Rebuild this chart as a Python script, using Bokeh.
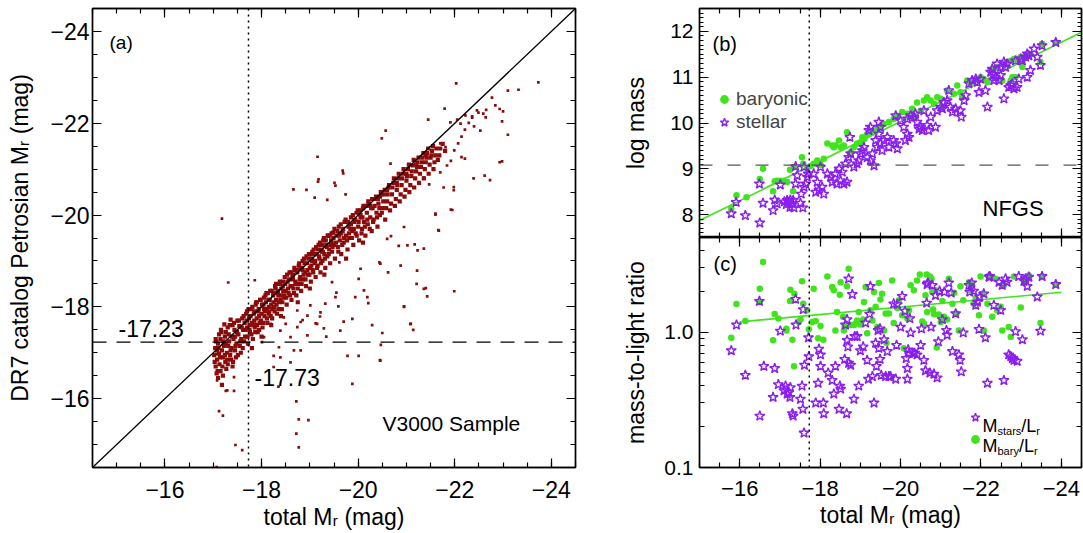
from bokeh.plotting import figure
from bokeh.models import (Range1d, LinearAxis, FixedTicker, Span, Slope, Label,
                          Legend, LegendItem, PrintfTickFormatter)
from bokeh.layouts import row, column
from bokeh.embed import file_html
from bokeh.resources import INLINE

FONT = "Liberation Sans"
RED = "#8b0a0a"
GREEN = "#3fe41c"
PURPLE = "#8a1ef0"

# ---------------- panel (a): V3000 sample, total Mr vs DR7 Petrosian Mr ----------------
band_pts = [
    (-17.02,-16.95),(-17.05,-16.70),(-17.04,-17.10),(-17.08,-16.85),(-17.10,-17.20),(-17.07,-16.55),
    (-17.12,-16.98),(-17.15,-17.30),(-17.13,-16.75),(-17.18,-17.05),(-17.20,-16.90),(-17.17,-17.45),
    (-17.22,-17.15),(-17.25,-16.80),(-17.24,-17.35),(-17.28,-17.00),(-17.30,-17.55),(-17.27,-16.65),
    (-17.33,-17.25),(-17.35,-16.95),(-17.32,-17.40),(-17.38,-17.10),(-17.40,-17.60),(-17.37,-16.85),
    (-17.42,-17.30),(-17.45,-17.05),(-17.44,-17.50),(-17.48,-17.20),(-17.50,-17.70),(-17.47,-16.90),
    (-17.52,-17.40),(-17.55,-17.15),(-17.54,-17.58),(-17.58,-17.30),(-17.60,-17.75),(-17.57,-17.00),
    (-17.62,-17.50),(-17.10,-16.45),(-17.20,-16.50),(-17.15,-16.60),(-17.30,-16.75),(-17.05,-17.30),
    (-17.12,-17.40),(-17.23,-17.62),(-17.36,-17.72),(-17.18,-16.30),(-17.40,-16.70),(-17.08,-17.05),
    (-17.26,-17.20),(-17.45,-17.35),
    (-17.65,-17.65),(-17.66,-17.35),(-17.68,-17.85),(-17.70,-17.55),(-17.72,-17.20),(-17.74,-17.75),
    (-17.76,-17.45),(-17.78,-17.95),(-17.80,-17.65),(-17.82,-17.30),(-17.84,-17.85),(-17.86,-17.55),
    (-17.88,-18.05),(-17.90,-17.75),(-17.92,-17.45),(-17.94,-17.95),(-17.96,-17.65),(-17.98,-18.15),
    (-18.00,-17.85),(-18.02,-17.55),(-18.04,-18.05),(-18.06,-17.80),(-18.08,-18.25),(-18.10,-17.95),
    (-18.12,-17.65),(-18.14,-18.15),(-18.16,-17.90),(-18.18,-18.35),(-18.20,-18.05),(-18.22,-17.75),
    (-18.24,-18.25),(-18.26,-18.00),(-18.28,-18.45),(-18.30,-18.15),(-18.32,-17.85),(-18.34,-18.35),
    (-18.36,-18.10),(-18.38,-18.55),(-18.40,-18.25),(-18.42,-17.95),(-18.44,-18.45),(-18.46,-18.20),
    (-18.48,-18.65),(-18.50,-18.35),(-17.75,-17.60),(-17.85,-17.70),(-17.95,-17.80),(-18.05,-17.95),
    (-18.15,-18.00),(-18.25,-18.10),(-18.35,-18.25),(-18.45,-18.35),(-17.80,-17.10),(-18.00,-17.35),
    (-18.20,-17.60),(-18.40,-17.80),(-17.70,-17.90),(-17.90,-18.10),(-18.10,-18.30),(-18.30,-18.50),
    (-18.52,-18.05),(-18.54,-18.55),(-18.56,-18.30),(-18.58,-18.75),(-18.60,-18.45),(-18.62,-18.15),
    (-18.64,-18.65),(-18.66,-18.40),(-18.68,-18.85),(-18.70,-18.55),(-18.72,-18.25),(-18.74,-18.75),
    (-18.76,-18.50),(-18.78,-18.95),(-18.80,-18.65),(-18.82,-18.35),(-18.84,-18.85),(-18.86,-18.60),
    (-18.88,-19.05),(-18.90,-18.75),(-18.92,-18.45),(-18.94,-18.95),(-18.96,-18.70),(-18.98,-19.15),
    (-19.00,-18.85),(-19.02,-18.55),(-19.04,-19.05),(-19.06,-18.80),(-19.08,-19.25),(-19.10,-18.95),
    (-19.12,-18.65),(-19.14,-19.15),(-19.16,-18.90),(-19.18,-19.35),(-19.20,-19.05),(-19.22,-18.75),
    (-19.24,-19.25),(-19.26,-19.00),(-19.28,-19.45),(-19.30,-19.15),(-19.32,-18.85),(-19.34,-19.35),
    (-19.36,-19.10),(-19.38,-19.55),(-19.40,-19.25),(-19.42,-18.95),(-19.44,-19.45),(-19.46,-19.20),
    (-19.48,-19.62),(-18.65,-18.60),(-18.85,-18.80),(-19.05,-19.00),(-19.25,-19.20),(-19.45,-19.40),
    (-18.75,-18.10),(-19.00,-18.40),(-19.30,-18.70),
    (-19.50,-19.35),(-19.52,-19.05),(-19.55,-19.55),(-19.58,-19.30),(-19.60,-19.75),(-19.62,-19.45),
    (-19.65,-19.15),(-19.68,-19.65),(-19.70,-19.40),(-19.72,-19.85),(-19.75,-19.55),(-19.78,-19.25),
    (-19.80,-19.75),(-19.82,-19.50),(-19.85,-19.95),(-19.88,-19.65),(-19.90,-19.35),(-19.92,-19.85),
    (-19.95,-19.60),(-19.98,-20.05),(-20.00,-19.75),(-20.02,-19.45),(-20.05,-19.95),(-20.08,-19.70),
    (-20.10,-20.15),(-20.12,-19.85),(-20.15,-19.55),(-20.18,-20.05),(-20.20,-19.80),(-20.22,-20.25),
    (-20.25,-19.95),(-20.28,-19.65),(-20.30,-20.15),(-20.32,-19.90),(-20.35,-20.35),(-20.38,-20.05),
    (-20.40,-19.75),(-20.42,-20.25),(-20.45,-20.00),(-20.48,-20.45),(-19.65,-19.60),(-19.85,-19.80),
    (-20.05,-20.00),(-20.25,-20.20),(-20.45,-20.40),(-19.75,-19.05),(-20.10,-19.40),
    (-20.50,-20.15),(-20.53,-20.45),(-20.56,-19.90),(-20.60,-20.30),(-20.63,-20.60),(-20.66,-20.10),
    (-20.70,-20.45),(-20.73,-20.70),(-20.76,-20.20),(-20.80,-20.55),(-20.83,-20.80),(-20.86,-20.30),
    (-20.90,-20.65),(-20.93,-20.90),(-20.96,-20.40),(-21.00,-20.75),(-21.03,-21.00),(-21.06,-20.50),
    (-21.10,-20.85),(-21.13,-21.08),(-21.16,-20.60),(-21.20,-20.95),(-21.23,-21.15),(-21.26,-20.70),
    (-21.30,-21.05),(-21.33,-21.25),(-21.36,-20.80),(-21.40,-21.15),(-21.43,-21.35),(-21.46,-20.90),
    (-21.50,-21.25),(-21.53,-21.40),(-21.56,-21.00),(-21.60,-21.30),(-21.65,-21.20),(-21.70,-21.45),
    (-20.60,-20.55),(-20.80,-20.70),(-21.00,-20.90),(-21.20,-21.10),(-21.40,-21.30),
    (-17.03,-16.80),(-17.06,-17.25),(-17.09,-16.60),(-17.11,-17.10),(-17.14,-16.90),(-17.16,-17.50),
    (-17.19,-16.70),(-17.21,-17.25),(-17.24,-16.95),(-17.26,-17.45),(-17.29,-16.85),(-17.31,-17.15),
    (-17.34,-17.60),(-17.36,-17.05),(-17.39,-17.35),(-17.41,-16.80),(-17.43,-17.65),(-17.46,-17.15),
    (-17.49,-17.45),(-17.51,-16.95),(-17.53,-17.70),(-17.56,-17.25),(-17.59,-17.55),(-17.61,-17.10),
    (-17.63,-17.80),(-17.64,-17.25),(-17.67,-17.50),(-17.69,-17.70),(-17.71,-17.35),(-17.73,-17.95),
    (-17.75,-17.50),(-17.77,-17.80),(-17.79,-17.40),(-17.81,-18.00),(-17.83,-17.60),(-17.85,-17.90),
    (-17.87,-17.45),(-17.89,-18.10),(-17.91,-17.60),(-17.93,-17.90),(-17.95,-17.50),(-17.97,-18.15),
    (-17.99,-17.70),(-18.01,-18.05),(-18.03,-17.65),(-18.05,-18.20),(-18.07,-17.90),(-18.09,-18.10),
    (-18.11,-17.75),(-18.13,-18.30),(-18.15,-17.85),(-18.17,-18.15),(-18.19,-17.80),(-18.21,-18.35),
    (-18.23,-17.95),(-18.25,-18.30),(-18.27,-17.90),(-18.29,-18.40),(-18.31,-18.05),(-18.33,-18.30),
    (-18.35,-17.95),(-18.37,-18.50),(-18.39,-18.15),(-18.41,-18.40),(-18.43,-18.10),(-18.45,-18.55),
    (-18.47,-18.25),(-18.49,-18.50),
    (-18.51,-18.20),(-18.53,-18.70),(-18.55,-18.40),(-18.57,-18.60),(-18.59,-18.25),(-18.61,-18.75),
    (-18.63,-18.45),(-18.65,-18.70),(-18.67,-18.30),(-18.69,-18.80),(-18.71,-18.50),(-18.73,-18.80),
    (-18.75,-18.40),(-18.77,-18.90),(-18.79,-18.60),(-18.81,-18.85),(-18.83,-18.50),(-18.85,-19.00),
    (-18.87,-18.70),(-18.89,-18.95),(-18.91,-18.60),(-18.93,-19.10),(-18.95,-18.80),(-18.97,-19.05),
    (-18.99,-18.70),(-19.01,-19.15),(-19.03,-18.90),(-19.05,-19.20),(-19.07,-18.75),(-19.09,-19.15),
    (-19.11,-19.00),(-19.13,-19.30),(-19.15,-18.85),(-19.17,-19.25),(-19.19,-19.10),(-19.21,-19.40),
    (-19.23,-18.95),(-19.25,-19.35),(-19.27,-19.20),(-19.29,-19.50),(-19.31,-19.05),(-19.33,-19.45),
    (-19.35,-19.30),(-19.37,-19.55),(-19.39,-19.15),(-19.41,-19.55),(-19.43,-19.35),(-19.45,-19.60),
    (-19.47,-19.30),(-19.49,-19.50),
    (-19.51,-19.70),(-19.54,-19.40),(-19.57,-19.65),(-19.59,-19.20),(-19.61,-19.55),(-19.64,-19.80),
    (-19.67,-19.35),(-19.69,-19.70),(-19.71,-19.50),(-19.74,-19.90),(-19.77,-19.45),(-19.79,-19.85),
    (-19.81,-19.60),(-19.84,-19.70),(-19.87,-19.50),(-19.89,-20.00),(-19.91,-19.70),(-19.94,-19.90),
    (-19.97,-19.55),(-19.99,-20.10),(-20.01,-19.85),(-20.04,-20.10),(-20.07,-19.60),(-20.09,-19.95),
    (-20.11,-20.20),(-20.14,-19.75),(-20.17,-20.20),(-20.19,-19.90),(-20.21,-20.30),(-20.24,-19.70),
    (-20.27,-20.15),(-20.29,-20.35),(-20.31,-19.85),(-20.34,-20.20),(-20.37,-20.40),(-20.39,-19.95),
    (-20.41,-20.35),(-20.44,-20.15),(-20.47,-20.50),(-20.49,-20.05),
    (-20.52,-20.30),(-20.55,-20.55),(-20.58,-20.15),(-20.61,-20.45),(-20.64,-20.65),(-20.68,-20.25),
    (-20.71,-20.60),(-20.74,-20.80),(-20.78,-20.35),(-20.81,-20.65),(-20.84,-20.90),(-20.88,-20.45),
    (-20.91,-20.80),(-20.94,-21.00),(-20.98,-20.55),(-21.01,-20.85),(-21.05,-21.10),(-21.08,-20.65),
    (-21.11,-20.95),(-21.15,-21.20),(-21.18,-20.80),(-21.22,-21.05),(-21.25,-21.25),(-21.28,-20.90),
    (-21.32,-21.15),(-21.35,-21.35),(-21.38,-21.00),(-21.42,-21.25),(-21.45,-21.45),(-21.48,-21.10),
    (-21.52,-21.30),(-21.55,-21.50),(-21.58,-21.15),(-21.62,-21.45),(-21.68,-21.30),(-21.75,-21.55),
    (-21.80,-21.40),
]
scatter_pts = [
    (-17.18,-19.92),(-17.31,-18.53),(-17.06,-16.97),(-17.12,-15.73),(-17.20,-15.63),(-17.07,-14.51),
    (-17.46,-14.99),(-17.26,-16.17),(-17.43,-16.17),(-17.60,-14.88),(-17.86,-18.58),(-18.25,-16.93),
    (-18.35,-16.26),(-18.66,-20.56),(-18.60,-16.79),(-18.72,-15.94),(-18.77,-15.55),(-18.72,-15.24),
    (-18.77,-14.94),(-18.97,-15.53),(-18.85,-17.71),(-19.16,-21.27),(-19.18,-20.78),(-19.12,-17.64),
    (-19.21,-17.79),(-19.29,-17.53),(-19.34,-17.35),(-19.51,-20.70),(-19.68,-20.97),(-19.61,-18.97),
    (-19.55,-18.31),(-19.59,-18.01),(-19.70,-17.68),(-19.88,-16.32),(-19.78,-16.93),(-20.01,-16.93),
    (-20.21,-18.08),(-20.29,-17.60),(-20.47,-17.17),(-20.45,-16.84),(-20.44,-18.97),(-20.49,-21.67),
    (-20.57,-21.84),(-20.62,-18.75),(-20.68,-19.54),(-20.84,-19.33),(-20.95,-18.00),(-21.09,-17.63),
    (-21.14,-17.50),(-21.17,-19.36),(-21.23,-19.23),(-21.36,-19.27),(-21.40,-18.41),(-21.43,-18.23),
    (-21.36,-20.82),(-21.45,-22.08),(-21.47,-20.67),(-21.60,-20.01),(-21.66,-19.67),(-21.79,-22.32),
    (-21.77,-20.60),(-21.92,-20.12),(-21.99,-18.34),(-21.98,-20.54),(-22.03,-22.87),(-22.14,-21.26),
    (-22.21,-21.23),(-22.39,-20.80),(-22.62,-20.86),(-22.73,-20.76),(-22.77,-22.56),(-22.93,-21.15),
    (-22.98,-21.17),(-23.10,-21.75),(-23.10,-22.71),(-23.32,-22.73),(-23.73,-22.89),(-22.98,-22.04),
    (-22.84,-22.39),(-22.65,-22.29),(-22.49,-22.23),(-22.36,-22.15),(-22.29,-22.01),(-22.21,-21.86),
    (-22.14,-21.71),(-22.07,-21.56),(-21.99,-21.41),(-21.92,-21.18),(-21.81,-21.48),(-21.70,-21.56),
    (-22.93,-22.31),(-23.00,-22.26),(-22.53,-21.84),(-22.46,-22.28),(-22.59,-22.21),(-22.64,-22.13),
    (-22.36,-22.12),(-22.22,-22.17),(-22.40,-21.93),(-22.12,-21.99),(-22.05,-22.08),(-21.91,-22.02),
    (-19.69,-20.91),(-19.17,-20.73),(-18.93,-20.55),(-19.53,-20.64),(-19.10,-20.38),(-19.36,-20.33),
    (-19.74,-20.45),(-19.95,-20.06),(-20.26,-19.95),(-20.60,-19.48),(-20.67,-21.12),(-20.46,-18.94),
    (-20.88,-18.90),(-20.95,-19.74),(-21.02,-19.34),(-21.22,-18.79),(-21.21,-18.50),(-21.36,-18.39),
    (-21.08,-17.63),(-20.50,-17.43),(-20.95,-18.01),(-21.60,-20.03),(-21.67,-19.66),(-21.95,-20.11),
    (-21.84,-21.08),(-21.70,-20.93),(-21.98,-20.61),(-20.01,-18.61),(-20.05,-18.83),(-20.12,-18.36),
    (-20.19,-18.21),(-19.88,-17.74),(-19.63,-17.48),(-20.46,-16.83),(-19.94,-18.21),(-19.46,-18.54),
    (-19.53,-18.21),(-19.32,-18.07),(-19.22,-17.88),(-19.15,-17.63),(-18.95,-17.38),(-18.81,-17.67),
    (-18.74,-17.92),(-19.01,-18.03),(-18.67,-17.05),(-18.81,-17.05),(-18.39,-16.90),(-18.25,-16.69),
    (-17.43,-16.47),(-17.29,-16.18),(-17.08,-16.40),(-18.36,-17.12),(-18.01,-17.23),(-18.60,-17.34),
    (-18.50,-17.63),(-18.46,-17.77),(-18.39,-17.48),(-18.19,-17.63),(-18.05,-17.34),(-17.87,-17.63),
    (-18.74,-17.56),(-18.95,-17.81),
]
limit_total_mr = -17.73
limit_petro_mr = -17.23

# ---------------- panel (b): NFGS log mass vs total Mr ----------------
stellar_mass_pts = [
    (-15.79,8.02),(-15.91,8.27),(-16.14,7.98),(-16.50,7.82),(-16.49,8.67),(-16.58,8.25),(-16.83,8.09),
    (-16.87,8.32),(-16.93,8.24),(-17.01,8.65),(-17.11,8.28),(-17.18,8.31),(-17.22,8.27),(-17.26,8.32),
    (-17.31,8.24),(-17.25,8.16),(-17.16,8.22),(-17.35,8.15),(-17.33,8.31),(-17.39,8.67),(-17.43,8.85),
    (-17.39,9.05),(-17.51,8.25),(-17.57,8.15),(-17.53,8.45),(-17.60,8.60),(-17.64,8.67),(-17.60,9.04),
    (-17.68,8.82),(-17.70,8.89),(-17.84,8.89),(-17.89,8.49),(-17.93,8.71),(-17.97,8.53),(-18.05,8.60),
    (-18.09,8.45),(-18.01,9.04),(-18.18,8.89),(-18.26,8.82),(-18.30,8.71),(-18.38,8.89),(-18.42,8.67),
    (-18.51,8.74),(-18.55,8.93),(-18.47,9.00),(-18.59,8.67),(-18.67,8.71),(-18.63,9.11),(-18.71,9.25),
    (-18.76,9.33),(-18.74,9.69),(-18.84,9.04),(-18.92,9.11),(-18.96,9.18),(-19.00,9.33),(-19.05,9.40),
    (-19.09,9.47),(-19.17,9.25),(-19.25,9.18),(-19.34,9.07),(-19.30,9.33),(-19.21,9.84),(-19.25,9.91),
    (-19.38,9.62),(-19.42,9.47),(-19.46,9.76),(-19.50,9.55),(-19.54,9.40),(-19.59,9.62),(-19.46,10.02),
    (-19.50,9.91),(-19.67,9.69),(-19.71,9.47),(-19.83,9.62),(-19.88,9.55),(-19.92,9.44),(-19.88,10.16),
    (-20.00,10.05),(-20.08,9.91),(-20.12,9.62),(-20.17,9.76),(-20.21,9.69),(-20.17,10.09),(-20.25,10.16),
    (-20.33,10.13),(-20.37,10.20),(-20.41,10.02),(-20.46,9.87),(-20.50,9.91),(-20.54,9.84),(-20.58,10.27),
    (-20.66,9.95),(-20.70,9.84),(-20.75,10.13),(-20.87,9.91),(-20.91,10.27),(-21.00,10.35),(-21.04,10.31),
    (-21.08,10.45),(-21.16,10.49),(-21.20,10.71),(-21.24,10.35),(-21.29,10.24),(-21.37,10.31),(-21.49,10.27),
    (-21.51,10.13),(-21.58,10.49),(-21.62,10.60),(-21.70,10.86),(-21.78,10.93),(-21.87,10.96),(-21.91,10.89),
    (-21.95,10.67),(-21.99,10.96),(-22.11,10.71),(-22.16,10.35),(-22.24,11.11),(-22.28,11.18),(-22.32,11.07),
    (-22.36,11.00),(-22.40,11.29),(-22.49,11.22),(-22.57,11.33),(-22.61,11.22),(-22.65,11.29),(-22.69,10.78),
    (-22.74,10.82),(-22.78,10.86),(-22.82,10.75),(-22.90,10.78),(-22.94,10.96),(-22.57,10.53),(-22.86,11.36),
    (-22.99,11.40),(-23.03,11.36),(-23.11,11.44),(-23.15,11.51),(-23.19,11.47),(-23.32,11.62),(-23.40,11.44),
    (-23.48,11.26),(-23.52,11.69),(-23.86,11.76),(-23.15,11.00),(-23.23,11.15),(-22.49,11.04),(-22.32,10.93),
    (-22.45,10.93),
]
baryonic_mass_pts = [
    (-15.79,8.13),(-15.92,8.42),(-16.17,8.38),(-16.50,8.78),(-16.58,9.00),(-16.83,8.51),(-16.87,8.73),
    (-16.93,8.74),(-17.01,8.74),(-17.10,8.74),(-17.18,8.71),(-17.25,8.98),(-17.33,8.51),(-17.36,9.04),
    (-17.55,9.25),(-17.58,9.11),(-17.68,9.00),(-17.76,9.06),(-17.84,9.11),(-17.93,9.18),(-18.01,9.09),
    (-18.09,9.22),(-18.18,9.55),(-18.30,9.51),(-18.34,9.47),(-18.38,9.51),(-18.47,9.62),(-18.51,9.47),
    (-18.59,9.51),(-18.67,9.80),(-18.76,9.36),(-18.84,9.47),(-18.92,9.55),(-19.00,9.58),(-19.05,9.69),
    (-19.10,9.65),(-19.17,9.76),(-19.25,9.80),(-19.34,9.84),(-19.42,9.87),(-19.50,9.91),(-19.59,9.98),
    (-19.71,10.02),(-19.83,10.09),(-19.92,10.16),(-20.04,10.24),(-20.17,10.20),(-20.29,10.31),(-20.33,10.13),
    (-20.41,10.45),(-20.50,10.27),(-20.58,10.49),(-20.66,10.56),(-20.75,10.49),(-20.83,10.42),(-20.91,10.56),
    (-21.00,10.53),(-21.04,10.35),(-21.16,10.71),(-21.33,10.64),(-21.41,10.82),(-21.49,10.67),(-21.53,10.56),
    (-21.66,10.93),(-21.74,10.89),(-21.82,10.93),(-21.91,10.96),(-21.99,11.00),(-22.07,10.96),(-22.16,10.89),
    (-22.24,11.15),(-22.32,11.18),(-22.40,11.22),(-22.53,10.93),(-22.57,11.29),(-22.65,11.33),(-22.74,11.36),
    (-22.82,11.40),(-22.86,11.00),(-22.90,11.40),(-22.99,11.44),(-23.03,11.22),(-23.11,11.47),(-23.19,11.51),
    (-23.48,11.33),(-23.52,11.73),(-23.86,11.76),(-22.74,10.93),(-22.78,11.00),
]
mass_fit_mr = [-15.0, -24.5]
mass_fit_logm = [7.87, 11.98]
mass_limit = 9.08

# ---------------- panel (c): mass-to-light ratio vs total Mr ----------------
stellar_ml_pts = [
    (-15.79,0.73),(-15.92,1.13),(-16.14,0.48),(-16.50,0.24),(-16.49,1.69),(-16.60,0.56),(-16.87,0.54),
    (-16.96,0.41),(-16.83,0.33),(-17.01,1.02),(-17.10,0.37),(-17.14,0.40),(-17.18,0.35),(-17.22,0.36),
    (-17.25,0.33),(-17.26,0.39),(-17.31,0.25),(-17.33,0.24),(-17.40,1.13),(-17.39,1.75),(-17.51,0.32),
    (-17.55,0.40),(-17.57,0.27),(-17.58,1.47),(-17.60,0.18),(-17.61,0.57),(-17.71,0.91),(-17.72,0.66),
    (-17.89,0.30),(-17.95,0.42),(-17.97,0.75),(-18.01,0.68),(-18.01,0.56),(-18.08,0.30),(-18.09,0.25),
    (-18.20,0.50),(-18.30,0.44),(-18.34,0.35),(-18.38,0.56),(-18.47,0.27),(-18.49,0.40),(-18.51,0.38),
    (-18.61,0.63),(-18.66,0.25),(-18.67,0.87),(-18.69,0.78),(-18.71,0.59),(-18.76,0.57),(-18.80,1.90),
    (-18.71,2.48),(-18.67,1.24),(-18.63,1.13),(-18.84,0.32),(-18.86,0.93),(-18.92,0.93),(-18.96,0.40),
    (-19.00,0.73),(-19.07,0.78),(-19.13,1.17),(-19.17,0.62),(-19.20,0.45),(-19.23,1.36),(-19.25,2.18),
    (-19.30,0.47),(-19.34,0.30),(-19.38,0.83),(-19.40,0.56),(-19.44,1.03),(-19.46,0.76),(-19.49,0.63),
    (-19.49,1.06),(-19.52,0.48),(-19.59,0.88),(-19.63,0.47),(-19.67,0.72),(-19.71,0.47),(-19.75,0.47),
    (-19.88,0.45),(-19.83,1.62),(-19.90,0.80),(-19.92,1.60),(-20.00,1.09),(-20.04,1.84),(-20.11,1.43),
    (-20.14,0.64),(-20.17,0.54),(-20.17,0.45),(-20.19,0.74),(-20.21,0.70),(-20.23,1.26),(-20.25,0.99),
    (-20.32,0.70),(-20.35,0.70),(-20.41,0.68),(-20.50,0.80),(-20.52,1.06),(-20.58,0.62),(-20.62,0.52),
    (-20.65,1.64),(-20.66,2.25),(-20.68,2.31),(-20.73,0.50),(-20.76,1.09),(-20.79,2.22),(-20.83,0.49),
    (-20.87,1.87),(-20.91,0.46),(-20.94,0.85),(-20.97,2.01),(-21.04,1.24),(-21.09,1.98),(-21.14,1.03),
    (-21.16,0.95),(-21.20,2.31),(-21.26,1.95),(-21.29,0.72),(-21.37,1.37),(-21.45,0.68),(-21.48,0.62),
    (-21.51,0.51),(-21.56,0.99),(-21.70,2.22),(-21.72,1.98),(-21.77,2.31),(-21.82,2.01),(-21.87,1.58),
    (-21.91,1.67),(-21.95,1.05),(-21.97,1.82),(-22.07,1.92),(-22.11,0.91),(-22.16,0.42),(-22.20,2.55),
    (-22.22,2.58),(-22.32,1.58),(-22.45,2.34),(-22.49,1.45),(-22.53,2.22),(-22.57,0.44),(-22.61,2.48),
    (-22.65,2.34),(-22.69,0.68),(-22.74,0.66),(-22.78,0.64),(-22.82,0.62),(-22.86,1.01),(-22.90,0.61),
    (-22.94,2.58),(-23.03,0.88),(-23.07,2.38),(-23.11,2.48),(-23.15,2.18),(-23.19,2.55),(-23.40,1.82),
    (-23.48,1.02),(-23.52,2.58),(-23.86,2.25),
]
baryonic_ml_pts = [
    (-15.79,0.91),(-15.92,1.61),(-16.14,1.21),(-16.50,1.67),(-16.58,3.29),(-16.50,2.09),(-16.83,0.87),
    (-16.87,1.36),(-16.96,1.26),(-17.16,1.06),(-17.16,1.03),(-17.25,1.70),(-17.26,2.06),(-17.31,0.88),
    (-17.35,0.56),(-17.36,1.92),(-17.47,1.19),(-17.51,1.24),(-17.55,2.38),(-17.58,1.62),(-17.68,1.45),
    (-17.72,1.05),(-17.80,1.19),(-17.84,2.09),(-17.89,1.21),(-17.95,0.90),(-18.01,1.11),(-18.08,0.88),
    (-18.18,2.58),(-18.30,2.15),(-18.34,2.04),(-18.38,1.03),(-18.42,1.41),(-18.49,1.89),(-18.51,2.34),
    (-18.57,1.30),(-18.59,1.03),(-18.61,1.09),(-18.67,2.18),(-18.71,2.94),(-18.76,1.13),(-18.84,1.13),
    (-18.88,1.16),(-18.92,1.22),(-18.96,1.41),(-19.00,1.14),(-19.07,1.24),(-19.09,1.67),(-19.13,2.15),
    (-19.17,0.98),(-19.25,1.45),(-19.30,1.22),(-19.34,1.98),(-19.38,1.54),(-19.42,1.09),(-19.46,2.31),
    (-19.50,1.74),(-19.54,1.92),(-19.59,1.03),(-19.63,1.37),(-19.65,0.83),(-19.71,1.37),(-19.79,2.41),
    (-19.83,1.17),(-19.92,1.51),(-19.96,1.72),(-20.04,1.33),(-20.08,0.76),(-20.17,1.26),(-20.21,1.45),
    (-20.25,2.22),(-20.33,2.04),(-20.41,2.41),(-20.48,2.67),(-20.54,1.20),(-20.58,1.16),(-20.62,1.87),
    (-20.65,2.67),(-20.66,1.41),(-20.73,2.58),(-20.77,2.48),(-20.79,1.98),(-20.81,1.47),(-20.83,1.36),
    (-20.87,2.04),(-20.90,0.77),(-20.95,1.35),(-21.00,1.19),(-21.04,1.70),(-21.08,1.30),(-21.16,1.24),
    (-21.20,2.48),(-21.29,1.62),(-21.33,1.95),(-21.39,1.37),(-21.45,1.03),(-21.49,2.18),(-21.56,1.72),
    (-21.70,2.34),(-21.74,2.04),(-21.78,2.22),(-21.82,1.62),(-21.87,1.77),(-21.95,1.33),(-21.99,2.58),
    (-22.03,1.92),(-22.07,1.03),(-22.16,1.62),(-22.20,2.62),(-22.28,1.30),(-22.36,2.48),(-22.40,1.45),
    (-22.49,1.54),(-22.53,1.03),(-22.57,2.22),(-22.69,1.09),(-22.74,0.92),(-22.82,2.58),(-22.99,1.52),
    (-23.07,2.38),(-23.15,2.48),(-23.19,2.62),(-23.48,1.17),(-23.52,2.58),(-23.86,2.25),
]
ml_fit_mr = [-16.0, -24.0]
ml_fit_ratio = [1.19, 1.97]

# ---------------- ticks ----------------
mag_major = [-24, -22, -20, -18, -16]
mag_minor = [-24.5 + 0.5 * i for i in range(21)]
mass_major = [8, 9, 10, 11, 12]
mass_minor = [round(7.5 + 0.1 * i, 2) for i in range(51)]
ml_major = [0.1, 1.0]
ml_minor = [0.2, 0.3, 0.4, 0.5, 0.6, 0.7, 0.8, 0.9, 2, 3, 4, 5]


def xs(pts):
    return [p[0] for p in pts]


def ys(pts):
    return [p[1] for p in pts]


def style_axis(ax, labels=True, size="23px", minor_len=5):
    ax.axis_line_color = "black"
    ax.axis_line_width = 1.4
    ax.major_tick_in = 9
    ax.major_tick_out = 0
    ax.minor_tick_in = minor_len
    ax.minor_tick_out = 0
    ax.major_tick_line_width = 1.2
    ax.minor_tick_line_width = 1.2
    ax.major_tick_line_color = "black"
    ax.minor_tick_line_color = "black"
    ax.major_label_text_font = FONT
    ax.axis_label_text_font = FONT
    ax.axis_label_text_font_style = "normal"
    ax.axis_label_text_color = "black"
    ax.axis_label_text_font_size = "23px"
    if labels:
        ax.major_label_text_color = "black"
        ax.major_label_text_font_size = size
    else:
        # tick-only mirror axis: labels are not drawn at all
        ax.major_label_text_color = None
        ax.major_label_text_font_size = "1px"
        ax.major_label_standoff = 0


def mirror_axis(ticks, minor, minor_len=5):
    ax = LinearAxis(ticker=FixedTicker(ticks=ticks, minor_ticks=minor),
                    formatter=PrintfTickFormatter(format="%.1f"))
    style_axis(ax, labels=False, minor_len=minor_len)
    return ax


def base_fig(fw, fh, xr, yr, left, right, top, bottom, y_type="linear"):
    p = figure(frame_width=fw, frame_height=fh, x_range=xr, y_range=yr, y_axis_type=y_type,
               output_backend="svg", toolbar_location=None,
               min_border_left=left, min_border_right=right,
               min_border_top=top, min_border_bottom=bottom)
    p.grid.visible = False
    p.outline_line_color = "black"
    p.outline_line_width = 1.4
    p.background_fill_color = "white"
    p.border_fill_color = "white"
    return p


def add_label(p, text, x, y, size, baseline="middle"):
    p.add_layout(Label(x=x, y=y, x_units="screen", y_units="screen", text=text,
                       text_font=FONT, text_font_size=size, text_color="black",
                       text_baseline=baseline, text_align="left"))


def plain_legend(items, loc, spacing, standoff, font_size):
    return Legend(items=items, location=loc, background_fill_alpha=0, border_line_alpha=0,
                  padding=0, margin=0, spacing=spacing, glyph_width=24, glyph_height=22,
                  label_standoff=standoff, label_text_font=FONT,
                  label_text_font_size=font_size, label_height=20)


# ================= panel (a) =================
pa = base_fig(483, 459, Range1d(-14.5, -24.5), Range1d(-14.5, -24.5), 92, 10, 8, 66)
pa.xaxis.ticker = FixedTicker(ticks=mag_major, minor_ticks=mag_minor)
pa.yaxis.ticker = FixedTicker(ticks=mag_major, minor_ticks=mag_minor)
style_axis(pa.xaxis[0])
style_axis(pa.yaxis[0])
pa.xaxis.axis_label = "total M\u1d63 (mag)"
pa.yaxis.axis_label = "DR7 catalog Petrosian M\u1d63 (mag)"
pa.xaxis.major_label_standoff = 13
pa.xaxis.axis_label_standoff = 3
pa.yaxis.major_label_standoff = 3
pa.yaxis.axis_label_standoff = 14
pa.add_layout(mirror_axis(mag_major, mag_minor), "above")
pa.add_layout(mirror_axis(mag_major, mag_minor), "right")

pa.scatter(xs(band_pts), ys(band_pts), marker="square", size=4.2, fill_color=RED, line_color=None)
pa.scatter(xs(scatter_pts), ys(scatter_pts), marker="square", size=2.7, fill_color=RED, line_color=None)
pa.add_layout(Slope(gradient=1, y_intercept=0, line_color="black", line_width=1.3))
pa.add_layout(Span(location=limit_total_mr, dimension="height", line_color="black",
                   line_width=1.5, line_dash="2 4"))
pa.add_layout(Span(location=limit_petro_mr, dimension="width", line_color="black",
                   line_width=1.3, line_dash="14 10"))
add_label(pa, "(a)", 17, 425, "19px")
add_label(pa, "V3000 Sample", 290, 44, "21px")
add_label(pa, "-17.23", 26, 139, "23px")
add_label(pa, "-17.73", 162, 90, "23px")

# ================= panel (b) =================
xr_right = Range1d(-15.0, -24.5)
pb = base_fig(382, 229, xr_right, Range1d(7.5, 12.5), 114, 2, 8, 0)
pb.xaxis.ticker = FixedTicker(ticks=mag_major, minor_ticks=mag_minor)
style_axis(pb.xaxis[0], labels=False)
pb.yaxis.ticker = FixedTicker(ticks=mass_major, minor_ticks=mass_minor)
style_axis(pb.yaxis[0], size="21px", minor_len=4)
pb.yaxis.axis_label = "log mass"
pb.yaxis.major_label_standoff = 6
pb.yaxis.axis_label_standoff = 18
pb.add_layout(mirror_axis(mag_major, mag_minor), "above")
pb.add_layout(mirror_axis(mass_major, mass_minor, minor_len=4), "right")

pb.add_layout(Span(location=limit_total_mr, dimension="height", line_color="black",
                   line_width=1.5, line_dash="2 4"))
pb.add_layout(Span(location=mass_limit, dimension="width", line_color="#555555",
                   line_width=1.3, line_dash="13 15"))
pb.line(mass_fit_mr, mass_fit_logm, line_color=GREEN, line_width=1.6)
r_bary_b = pb.scatter(xs(baryonic_mass_pts), ys(baryonic_mass_pts), marker="circle", size=6.5,
                      fill_color=GREEN, line_color=None)
r_star_b = pb.scatter(xs(stellar_mass_pts), ys(stellar_mass_pts), marker="star", size=10.5,
                      fill_alpha=0, line_color=PURPLE, line_width=1.4)
pb.add_layout(plain_legend([LegendItem(label="baryonic", renderers=[r_bary_b]),
                            LegendItem(label="stellar", renderers=[r_star_b])],
                           (13, 104), 1, -5, "19px"))
add_label(pb, "(b)", 13, 194, "20px")
add_label(pb, "NFGS", 283, 29, "22px")

# ================= panel (c) =================
pc = base_fig(382, 230, xr_right, Range1d(0.1, 5.0), 114, 2, 0, 66, y_type="log")
pc.xaxis.ticker = FixedTicker(ticks=mag_major, minor_ticks=mag_minor)
style_axis(pc.xaxis[0], size="22px")
pc.xaxis.axis_label = "total M\u1d63 (mag)"
pc.xaxis.major_label_standoff = 13
pc.xaxis.axis_label_standoff = 3
pc.yaxis.ticker = FixedTicker(ticks=ml_major, minor_ticks=ml_minor)
pc.yaxis.formatter = PrintfTickFormatter(format="%.1f")
style_axis(pc.yaxis[0], size="21px")
pc.yaxis.axis_label = "mass-to-light ratio"
pc.yaxis.major_label_standoff = 6
pc.yaxis.axis_label_standoff = 12
pc.add_layout(mirror_axis(mag_major, mag_minor), "above")
pc.add_layout(mirror_axis(ml_major, ml_minor), "right")

pc.add_layout(Span(location=limit_total_mr, dimension="height", line_color="black",
                   line_width=1.5, line_dash="2 4"))
pc.line(ml_fit_mr, ml_fit_ratio, line_color=GREEN, line_width=1.6)
r_bary_c = pc.scatter(xs(baryonic_ml_pts), ys(baryonic_ml_pts), marker="circle", size=6.5,
                      fill_color=GREEN, line_color=None)
r_star_c = pc.scatter(xs(stellar_ml_pts), ys(stellar_ml_pts), marker="star", size=10.5,
                      fill_alpha=0, line_color=PURPLE, line_width=1.4)
pc.add_layout(plain_legend([LegendItem(label=" ", renderers=[r_star_c]),
                            LegendItem(label=" ", renderers=[r_bary_c])],
                           (264, 17), -2, 0, "10px"))
add_label(pc, "(c)", 14, 204, "20px")
# legend texts with subscripts: M_stars/L_r and M_bary/L_r
add_label(pc, "M", 283, 42, "18px", "alphabetic")
add_label(pc, "stars", 298, 37, "11px", "alphabetic")
add_label(pc, "/L", 321.8, 42, "18px", "alphabetic")
add_label(pc, "r", 336.8, 37, "11px", "alphabetic")
add_label(pc, "M", 283, 21.5, "18px", "alphabetic")
add_label(pc, "bary", 298, 16.5, "11px", "alphabetic")
add_label(pc, "/L", 319.4, 21.5, "18px", "alphabetic")
add_label(pc, "r", 334.4, 16.5, "11px", "alphabetic")

layout = row(pa, column(pb, pc, spacing=0), spacing=0)
open("out.html", "w").write(file_html(layout, INLINE))
